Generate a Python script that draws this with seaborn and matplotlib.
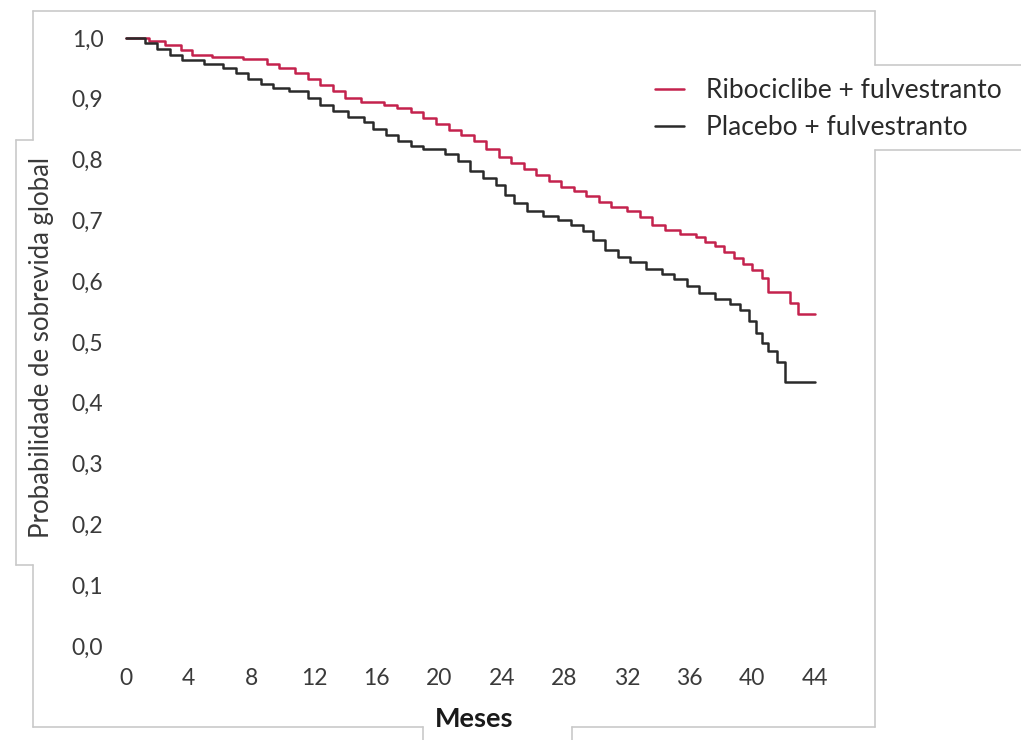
import numpy as np
import pandas as pd
import matplotlib
matplotlib.use("Agg")
import matplotlib.pyplot as plt
from matplotlib.lines import Line2D
import seaborn as sns

# ---- data ----
series_names = ["Ribociclibe + fulvestranto", "Placebo + fulvestranto"]

ribo_months = [0, 1.5, 2.5, 3.5, 4.2, 5.5, 7.5, 9.0, 9.8, 10.8, 11.6, 12.4, 13.2, 14.0,
               15.0, 16.5, 17.3, 18.2, 19.0, 19.8, 20.6, 21.4, 22.2, 23.0, 23.8, 24.6,
               25.4, 26.2, 27.0, 27.8, 28.6, 29.4, 30.2, 31.0, 32.0, 32.8, 33.6, 34.4,
               35.4, 36.4, 37.0, 37.6, 38.2, 38.8, 39.4, 40.0, 40.6, 41.0, 42.4, 42.9, 44.0]
ribo_surv = [1.0, 0.995, 0.988, 0.980, 0.972, 0.968, 0.965, 0.958, 0.950, 0.942, 0.932,
             0.922, 0.912, 0.902, 0.895, 0.890, 0.885, 0.878, 0.868, 0.858, 0.848, 0.840,
             0.830, 0.818, 0.805, 0.795, 0.785, 0.775, 0.765, 0.755, 0.748, 0.740, 0.730,
             0.722, 0.715, 0.705, 0.692, 0.685, 0.678, 0.672, 0.665, 0.658, 0.648, 0.638,
             0.628, 0.618, 0.605, 0.582, 0.564, 0.546, 0.546]

plac_months = [0, 1.2, 2.0, 2.8, 3.6, 5.0, 6.2, 7.0, 7.8, 8.6, 9.4, 10.4, 11.6, 12.4,
               13.2, 14.2, 15.2, 15.8, 16.6, 17.4, 18.2, 19.0, 20.4, 21.2, 22.0, 22.8,
               23.6, 24.2, 24.8, 25.6, 26.6, 27.6, 28.4, 29.2, 29.8, 30.6, 31.4, 32.2,
               33.2, 34.2, 35.0, 35.8, 36.6, 37.6, 38.6, 39.2, 39.8, 40.2, 40.6, 41.0,
               41.6, 42.1, 44.0]
plac_surv = [1.0, 0.992, 0.982, 0.972, 0.964, 0.958, 0.950, 0.942, 0.932, 0.925, 0.918,
             0.912, 0.902, 0.890, 0.880, 0.870, 0.862, 0.850, 0.840, 0.830, 0.822, 0.818,
             0.810, 0.798, 0.782, 0.770, 0.758, 0.742, 0.728, 0.715, 0.708, 0.700, 0.692,
             0.682, 0.668, 0.652, 0.640, 0.632, 0.620, 0.612, 0.603, 0.592, 0.580, 0.570,
             0.562, 0.552, 0.535, 0.515, 0.498, 0.485, 0.467, 0.434, 0.434]

x_ticks = [0, 4, 8, 12, 16, 20, 24, 28, 32, 36, 40, 44]
y_ticks = [0.0, 0.1, 0.2, 0.3, 0.4, 0.5, 0.6, 0.7, 0.8, 0.9, 1.0]
y_ticklabels = ["0,0", "0,1", "0,2", "0,3", "0,4", "0,5", "0,6", "0,7", "0,8", "0,9", "1,0"]

colors = {"Ribociclibe + fulvestranto": "#c4224d", "Placebo + fulvestranto": "#2a2a2a"}

df = pd.concat([
    pd.DataFrame({"Meses": ribo_months, "Sobrevida": ribo_surv, "Grupo": series_names[0]}),
    pd.DataFrame({"Meses": plac_months, "Sobrevida": plac_surv, "Grupo": series_names[1]}),
], ignore_index=True)

sns.set_theme(style="white")
plt.rcParams["font.family"] = ["Lato", "DejaVu Sans"]

fig = plt.figure(figsize=(10.21, 7.40), dpi=100)
ax = fig.add_axes([0.108, 0.1105, 0.7056, 0.8546])

sns.lineplot(data=df, x="Meses", y="Sobrevida", hue="Grupo", hue_order=series_names,
             palette=colors, drawstyle="steps-post", linewidth=1.8, ax=ax,
             estimator=None, sort=False)

ax.set_xlim(-1, 45)
ax.set_ylim(-0.02, 1.02)
ax.set_xticks(x_ticks)
ax.set_xticklabels([str(t) for t in x_ticks])
ax.set_yticks(y_ticks)
ax.set_yticklabels(y_ticklabels)
ax.tick_params(axis="both", length=0, labelsize=16.5, colors="#3a3a3a")
ax.tick_params(axis="y", pad=5)
ax.tick_params(axis="x", pad=7)
for s in ax.spines.values():
    s.set_visible(False)

ax.set_xlabel("")
ax.set_ylabel("")
fig.text(474 / 1021, 1 - 719 / 740, "Meses", ha="center", va="center",
         fontsize=19.5, fontweight="bold", color="#1a1a1a")
fig.text(42 / 1021, 1 - 347 / 740, "Probabilidade de sobrevida global", ha="center",
         va="center", rotation=90, fontsize=18.5, color="#3a3a3a")

handles, labels = ax.get_legend_handles_labels()
ax.legend(handles=handles, labels=labels, loc="upper left",
          bbox_to_anchor=(655 / 1021, 1 - 78 / 740), bbox_transform=fig.transFigure,
          frameon=False, fontsize=19, handlelength=1.1, handletextpad=0.85,
          labelspacing=0.45, borderpad=0, borderaxespad=0, labelcolor="#2a2a2a")

# light grey outline of the original composite panel
g = "#c9c9c9"
segs = [
    ((33, 11), (875, 11)), ((875, 11), (875, 65)), ((875, 65), (1021, 65)),
    ((875, 150), (1021, 150)), ((875, 150), (875, 727)), ((572, 727), (875, 727)),
    ((572, 727), (572, 740)), ((423, 727), (423, 740)), ((33, 727), (423, 727)),
    ((33, 11), (33, 140)), ((16, 140), (33, 140)), ((16, 140), (16, 565)),
    ((16, 565), (33, 565)), ((33, 565), (33, 727)),
]
for (x0, y0), (x1, y1) in segs:
    fig.add_artist(Line2D([x0 / 1021, x1 / 1021], [1 - y0 / 740, 1 - y1 / 740],
                          transform=fig.transFigure, color=g, linewidth=1.2))

fig.savefig("out.png", dpi=100, facecolor="white")
